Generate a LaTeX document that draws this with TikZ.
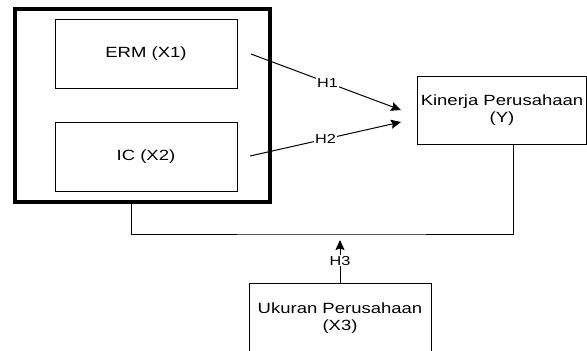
\documentclass[tikz,border=0pt]{standalone}
\usepackage{fontspec}
\setmainfont{Liberation Sans}[FakeStretch=1.25]
\usetikzlibrary{arrows.meta,positioning}
\begin{document}
\begin{tikzpicture}[x=1pt,y=-1pt,
  box/.style={draw=black,line width=0.9pt,rectangle,inner sep=0pt,outer sep=0pt,
    align=center,font=\fontsize{14.8}{17.5}\selectfont},
  thick box/.style={draw=black,line width=4pt,rectangle,inner sep=0pt,outer sep=0pt},
  conn/.style={draw=black,line width=1pt},
  arr/.style={conn,-{Stealth[length=10pt,width=9pt,inset=1.5pt]}},
  hlab/.style={fill=white,inner sep=1pt,font=\fontsize{13}{14}\selectfont}]
\useasboundingbox (0,0) rectangle (587,351);
\clip (0,0) rectangle (587,351);
\node[thick box,minimum width=255pt,minimum height=193pt] (outer) at (142.5,105.5) {};
\node[box,minimum width=182pt,minimum height=69pt] (erm) at (146,53.5) {ERM (X1)};
\node[box,minimum width=182pt,minimum height=69pt] (ic) at (146,156.5) {IC (X2)};
\node[box,minimum width=169pt,minimum height=68pt] (kin) at (502,110) {Kinerja Perusahaan\\(Y)};
\node[box,minimum width=182pt,minimum height=70pt,anchor=north] (uk) at (340,283) {Ukuran Perusahaan\\(X3)};
\coordinate (s1) at (251,54);
\coordinate (t1) at (401,110);
\coordinate (s2) at (250,156);
\coordinate (t2) at (401,122);
\coordinate (j) at (340,234);
\coordinate (t3) at (340,240);
\draw[arr] (s1) -- node[hlab,pos=0.51] {H1} (t1);
\draw[arr] (s2) -- node[hlab,pos=0.5] {H2} (t2);
\draw[conn] ([xshift=-11.5pt]outer.south) |- (j) -| ([xshift=11.5pt]kin.south);
\draw[arr] (uk.north) -- node[hlab,pos=0.52] {H3} (t3);
\end{tikzpicture}
\end{document}
